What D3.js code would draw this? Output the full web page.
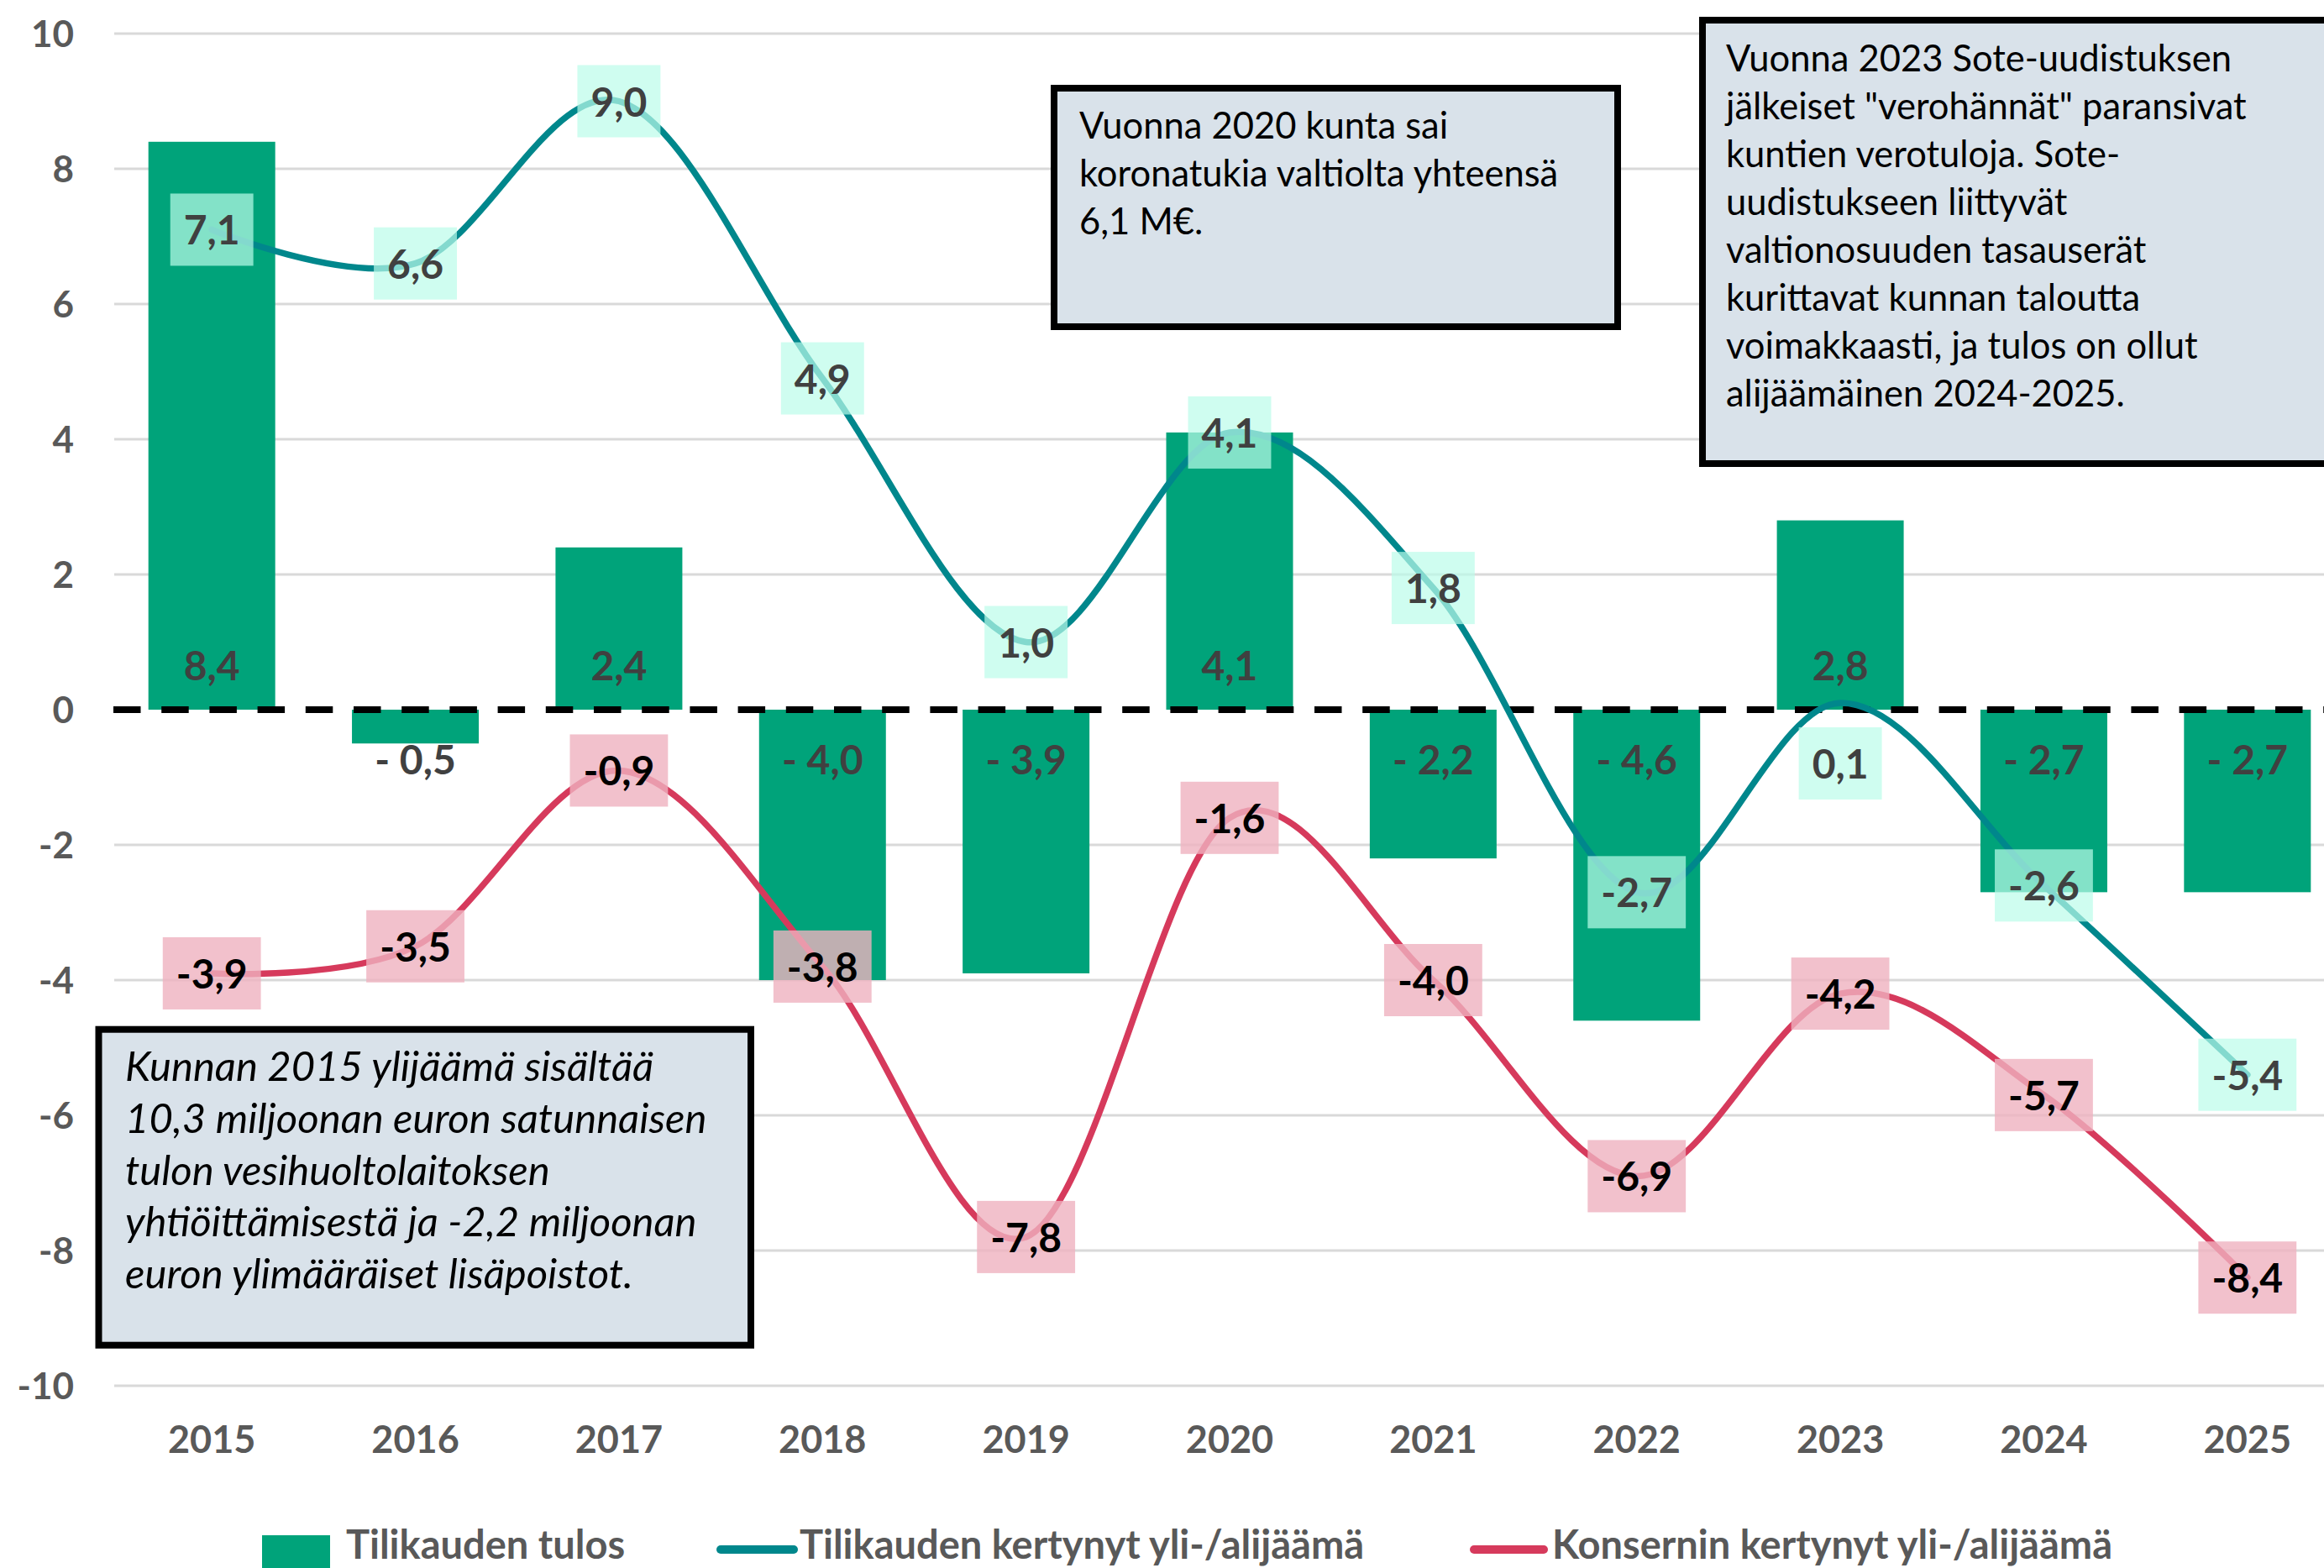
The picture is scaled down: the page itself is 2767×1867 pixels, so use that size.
<!DOCTYPE html>
<html>
<head>
<meta charset="utf-8">
<script src="https://cdn.jsdelivr.net/npm/d3@7/dist/d3.min.js"></script>
<style>
  html, body { margin: 0; padding: 0; background: #ffffff; }
  svg { display: block; }
  text { font-family: Lato, "Noto Sans", sans-serif; }
</style>
</head>
<body>
<svg id="chart" width="2767" height="1867"></svg>
<script>
// ---- data ----
const years = ["2015","2016","2017","2018","2019","2020","2021","2022","2023","2024","2025"];
const tilikaudenTulos = [8.4, -0.5, 2.4, -4.0, -3.9, 4.1, -2.2, -4.6, 2.8, -2.7, -2.7];
const tilikaudenKertynyt = [7.1, 6.6, 9.0, 4.9, 1.0, 4.1, 1.8, -2.7, 0.1, -2.6, -5.4];
const konserninKertynyt = [-3.9, -3.5, -0.9, -3.8, -7.8, -1.6, -4.0, -6.9, -4.2, -5.7, -8.4];
const yTickValues = [10, 8, 6, 4, 2, 0, -2, -4, -6, -8, -10];
const seriesNames = ["Tilikauden tulos", "Tilikauden kertynyt yli-/alijäämä", "Konsernin kertynyt yli-/alijäämä"];
const note2020 = ["Vuonna 2020 kunta sai", "koronatukia valtiolta yhteensä", "6,1 M€."];
const note2023 = ["Vuonna 2023 Sote-uudistuksen", "jälkeiset \"verohännät\" paransivat", "kuntien verotuloja. Sote-", "uudistukseen liittyvät", "valtionosuuden tasauserät", "kurittavat kunnan taloutta", "voimakkaasti, ja tulos on ollut", "alijäämäinen 2024-2025."];
const note2015 = ["Kunnan 2015 ylijäämä sisältää", "10,3 miljoonan euron satunnaisen", "tulon vesihuoltolaitoksen", "yhtiöittämisestä ja -2,2 miljoonan", "euron ylimääräiset lisäpoistot."];

// label placement (style): "c" = centred on point, "b" = below point
const tealLabelPlacement = ["c","c","c","c","c","c","c","c","b","c","c"];
const redLabelPlacement  = ["c","c","c","c","c","c","c","c","c","c","c"];

// ---- styles ----
const C = {
  bar: "#00A37A",
  teal: "#00878C",
  red: "#D63A5C",
  grid: "#D9D9D9",
  axisText: "#595959",
  barLabel: "#404040",
  tealBox: "rgb(187,252,234)",
  redBox: "rgb(239,177,191)",
  noteFill: "#D9E2EA"
};

const svg = d3.select("#chart");
const W = 2767, H = 1867;
svg.append("rect").attr("width", W).attr("height", H).attr("fill", "#fff");

const x = d3.scaleBand().domain(years).range([131, 2797]).paddingInner(0.377).paddingOuter(0.1885);
const y = d3.scaleLinear().domain([-10, 10]).range([1650, 40]);
const cx = yr => x(yr) + x.bandwidth() / 2;
const fmt = v => d3.format(".1f")(v).replace(".", ",").replace("−", "-");

// gridlines
svg.append("g").selectAll("line").data(yTickValues.filter(v => v !== 0)).join("line")
  .attr("x1", 136).attr("x2", W)
  .attr("y1", d => y(d)).attr("y2", d => y(d))
  .attr("stroke", C.grid).attr("stroke-width", 3);

// y axis labels
const yAxis = d3.axisLeft(y).tickValues(yTickValues).tickSize(0).tickPadding(0)
  .tickFormat(d => d3.format("d")(d).replace("−", "-"));
const gy = svg.append("g").attr("transform", "translate(88,0)").call(yAxis);
gy.select(".domain").remove();
gy.selectAll("text").attr("font-family", "Lato, sans-serif").attr("font-size", 44)
  .attr("font-weight", "bold").attr("fill", C.axisText).attr("dy", "0.36em");

// x axis labels
const xAxis = d3.axisBottom(x).tickSize(0).tickPadding(48);
const gx = svg.append("g").attr("transform", `translate(0,${y(-10)})`).call(xAxis);
gx.select(".domain").remove();
gx.selectAll("text").attr("font-family", "Lato, sans-serif").attr("font-size", 45)
  .attr("font-weight", "bold").attr("fill", C.axisText);

// bars
svg.append("g").selectAll("rect").data(tilikaudenTulos).join("rect")
  .attr("x", (d, i) => x(years[i]))
  .attr("width", x.bandwidth())
  .attr("y", d => Math.min(y(d), y(0)))
  .attr("height", d => Math.abs(y(d) - y(0)))
  .attr("fill", C.bar);

// zero line
svg.append("line").attr("x1", 135).attr("x2", W).attr("y1", y(0)).attr("y2", y(0))
  .attr("stroke", "#000").attr("stroke-width", 8).attr("stroke-dasharray", "32.5,24.7");

// bar labels
svg.append("g").selectAll("text").data(tilikaudenTulos).join("text")
  .attr("x", (d, i) => cx(years[i]))
  .attr("y", d => d >= 0 ? y(0) - 35 : y(0) + 77)
  .attr("text-anchor", "middle")
  .attr("font-size", 48).attr("font-weight", "bold").attr("fill", C.barLabel)
  .text(d => d >= 0 ? fmt(d) : "- " + fmt(-d));

// lines
const line = d3.line()
  .x((d, i) => cx(years[i]))
  .y(d => y(d))
  .curve(d3.curveCardinal.tension(0));

svg.append("path").datum(tilikaudenKertynyt).attr("d", line)
  .attr("fill", "none").attr("stroke", C.teal).attr("stroke-width", 7.5).attr("stroke-linecap", "round");
svg.append("path").datum(konserninKertynyt).attr("d", line)
  .attr("fill", "none").attr("stroke", C.red).attr("stroke-width", 7.5).attr("stroke-linecap", "round");

// point labels with boxes
function pointLabels(data, placement, boxFill, boxOpacity, textColor) {
  const g = svg.append("g");
  data.forEach((v, i) => {
    const px = cx(years[i]);
    const py = y(v) + (placement[i] === "b" ? 72 : 0);
    const lg = g.append("g");
    const r = lg.append("rect");
    const t = lg.append("text")
      .attr("x", px).attr("y", py + 18)
      .attr("text-anchor", "middle")
      .attr("font-size", 48).attr("font-weight", "bold").attr("fill", textColor)
      .text(fmt(v));
    const w = t.node().getComputedTextLength() + 32;
    r.attr("x", px - w / 2).attr("y", py - 43).attr("width", w).attr("height", 86)
      .attr("fill", boxFill).attr("fill-opacity", boxOpacity);
  });
}
pointLabels(tilikaudenKertynyt, tealLabelPlacement, C.tealBox, 0.7, C.barLabel);
pointLabels(konserninKertynyt, redLabelPlacement, C.redBox, 0.8, "#000");

// annotation boxes
function noteBox(bx, by, bw, bh, lines, tx, ty0, dy, size, italic) {
  svg.append("rect").attr("x", bx).attr("y", by).attr("width", bw).attr("height", bh)
    .attr("fill", C.noteFill).attr("stroke", "#000").attr("stroke-width", 8);
  const t = svg.append("text").attr("font-size", size).attr("fill", "#000")
    .attr("font-style", italic ? "italic" : "normal");
  lines.forEach((s, i) => {
    t.append("tspan").attr("x", tx).attr("y", ty0 + i * dy).text(s);
  });
}
noteBox(1255, 105, 671, 284, note2020, 1285, 165, 57, 43.5, false);
noteBox(2027, 24, 800, 528, note2023, 2055, 85, 57, 43.5, false);
noteBox(117.5, 1225.7, 776.5, 376, note2015, 149, 1287, 61.8, 49, true);

// legend
const lg = svg.append("g");
const legY = 1845;
lg.append("rect").attr("x", 312).attr("y", 1828).attr("width", 81).attr("height", 40).attr("fill", C.bar);
lg.append("line").attr("x1", 858).attr("x2", 945).attr("y1", legY).attr("y2", legY)
  .attr("stroke", C.teal).attr("stroke-width", 10).attr("stroke-linecap", "round");
lg.append("line").attr("x1", 1755).attr("x2", 1838).attr("y1", legY).attr("y2", legY)
  .attr("stroke", C.red).attr("stroke-width", 10).attr("stroke-linecap", "round");
const legX = [412, 952, 1848];
lg.selectAll("text").data(seriesNames).join("text")
  .attr("x", (d, i) => legX[i]).attr("y", 1856)
  .attr("font-size", 47).attr("font-weight", "bold").attr("fill", C.axisText)
  .text(d => d);
</script>
</body>
</html>
